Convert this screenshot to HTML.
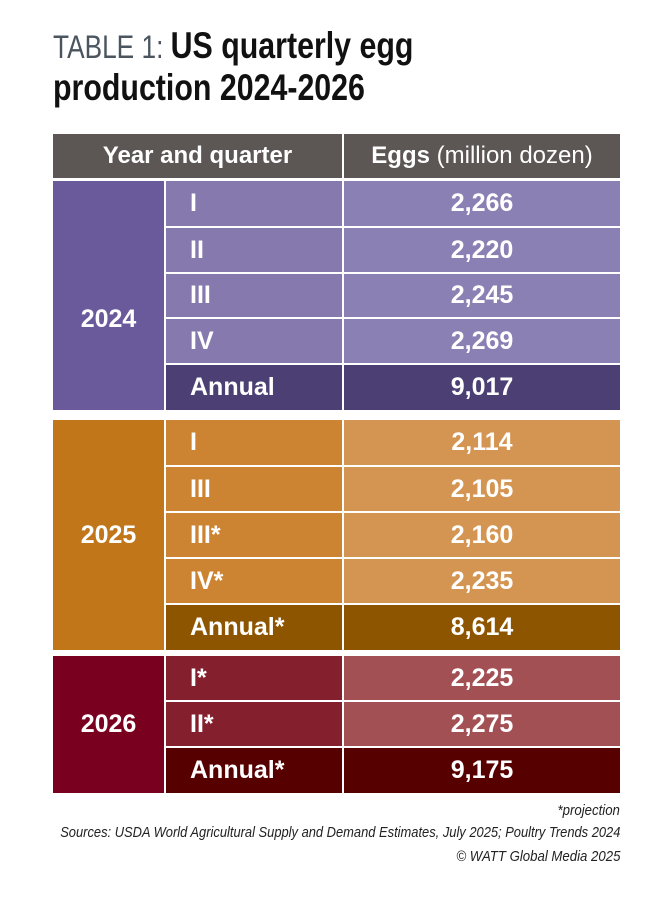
<!DOCTYPE html>
<html><head><meta charset="utf-8"><style>
body{margin:0;width:645px;height:899px;background:#fff;position:relative;overflow:hidden;font-family:"Liberation Sans",sans-serif;}
.c{position:absolute;color:#fff;font-weight:bold;font-size:25px;display:flex;align-items:center;box-sizing:border-box;}
.t{position:absolute;white-space:nowrap;}
</style></head><body>
<div class="t" style="left:53px;top:26px;font-size:37px;line-height:40px;color:#111;font-weight:bold;transform:scaleX(0.82);transform-origin:left top"><span style="font-weight:normal;color:#4a5560;font-size:32px">TABLE 1: </span>US quarterly egg</div>
<div class="t" style="left:53px;top:68px;font-size:37px;line-height:40px;color:#111;font-weight:bold;transform:scaleX(0.82);transform-origin:left top">production 2024-2026</div>

<div class="c" style="left:53px;top:134px;width:289px;height:44px;background:#5c5654;justify-content:center;font-size:24px">Year and quarter</div>
<div class="c" style="left:344px;top:134px;width:276px;height:44px;background:#5c5654;justify-content:center;font-size:24px">Eggs&nbsp;<span style="font-weight:normal">(million dozen)</span></div>

<div class="c" style="left:53px;top:181px;width:111px;height:229px;background:#6a5a9c;justify-content:center;padding-top:48px">2024</div>
<div class="c" style="left:166px;top:181px;width:176px;height:45px;background:#8679ae;padding-left:24px">I</div>
<div class="c" style="left:344px;top:181px;width:276px;height:45px;background:#8b80b3;justify-content:center">2,266</div>
<div class="c" style="left:166px;top:228px;width:176px;height:44px;background:#8679ae;padding-left:24px">II</div>
<div class="c" style="left:344px;top:228px;width:276px;height:44px;background:#8b80b3;justify-content:center">2,220</div>
<div class="c" style="left:166px;top:274px;width:176px;height:43px;background:#8679ae;padding-left:24px">III</div>
<div class="c" style="left:344px;top:274px;width:276px;height:43px;background:#8b80b3;justify-content:center">2,245</div>
<div class="c" style="left:166px;top:319px;width:176px;height:44px;background:#8679ae;padding-left:24px">IV</div>
<div class="c" style="left:344px;top:319px;width:276px;height:44px;background:#8b80b3;justify-content:center">2,269</div>
<div class="c" style="left:166px;top:365px;width:176px;height:45px;background:#4b3f73;padding-left:24px">Annual</div>
<div class="c" style="left:344px;top:365px;width:276px;height:45px;background:#4b3f73;justify-content:center">9,017</div>

<div class="c" style="left:53px;top:420px;width:111px;height:230px;background:#c07619;justify-content:center">2025</div>
<div class="c" style="left:166px;top:420px;width:176px;height:45px;background:#cd8432;padding-left:24px">I</div>
<div class="c" style="left:344px;top:420px;width:276px;height:45px;background:#d49552;justify-content:center">2,114</div>
<div class="c" style="left:166px;top:467px;width:176px;height:44px;background:#cd8432;padding-left:24px">III</div>
<div class="c" style="left:344px;top:467px;width:276px;height:44px;background:#d49552;justify-content:center">2,105</div>
<div class="c" style="left:166px;top:513px;width:176px;height:44px;background:#cd8432;padding-left:24px">III*</div>
<div class="c" style="left:344px;top:513px;width:276px;height:44px;background:#d49552;justify-content:center">2,160</div>
<div class="c" style="left:166px;top:559px;width:176px;height:44px;background:#cd8432;padding-left:24px">IV*</div>
<div class="c" style="left:344px;top:559px;width:276px;height:44px;background:#d49552;justify-content:center">2,235</div>
<div class="c" style="left:166px;top:605px;width:176px;height:45px;background:#8e5500;padding-left:24px">Annual*</div>
<div class="c" style="left:344px;top:605px;width:276px;height:45px;background:#8e5500;justify-content:center">8,614</div>

<div class="c" style="left:53px;top:656px;width:111px;height:137px;background:#7a0020;justify-content:center">2026</div>
<div class="c" style="left:166px;top:656px;width:176px;height:44px;background:#841f2e;padding-left:24px">I*</div>
<div class="c" style="left:344px;top:656px;width:276px;height:44px;background:#a25053;justify-content:center">2,225</div>
<div class="c" style="left:166px;top:702px;width:176px;height:44px;background:#841f2e;padding-left:24px">II*</div>
<div class="c" style="left:344px;top:702px;width:276px;height:44px;background:#a25053;justify-content:center">2,275</div>
<div class="c" style="left:166px;top:748px;width:176px;height:45px;background:#570000;padding-left:24px">Annual*</div>
<div class="c" style="left:344px;top:748px;width:276px;height:45px;background:#570000;justify-content:center">9,175</div>

<div class="t" style="right:25px;top:802px;font-size:15px;font-style:italic;color:#222;transform:scaleX(0.88);transform-origin:right top">*projection</div>
<div class="t" style="right:25px;top:824px;font-size:15px;font-style:italic;color:#222;transform:scaleX(0.86);transform-origin:right top">Sources: USDA World Agricultural Supply and Demand Estimates, July 2025; Poultry Trends 2024</div>
<div class="t" style="right:25px;top:848px;font-size:15px;font-style:italic;color:#222;transform:scaleX(0.88);transform-origin:right top">© WATT Global Media 2025</div>
</body></html>
